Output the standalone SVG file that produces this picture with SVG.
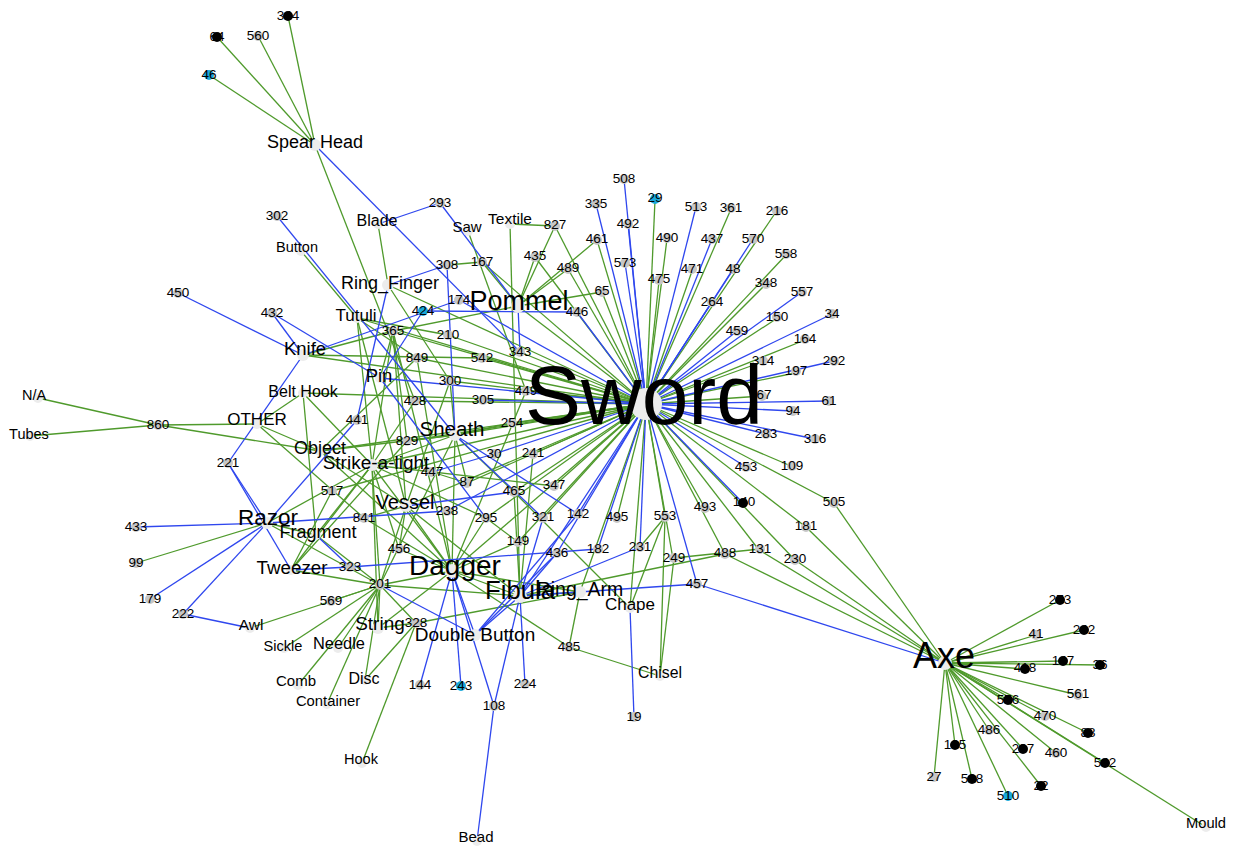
<svg xmlns="http://www.w3.org/2000/svg" width="1233" height="847" viewBox="0 0 1233 847">
<style>
.g path{stroke:#4f9a2c;stroke-width:1.3;fill:none}
.b path{stroke:#2f47ee;stroke-width:1.3;fill:none}
circle{stroke:none}
.gy{fill:#c6c6c6}
.k{fill:#000}
.cy{fill:#19a8da}
.ty{fill:#ececec}
text{font-family:"Liberation Sans",Arial,sans-serif;fill:#000;text-anchor:middle}
.nm{font-size:13.5px}
</style>
<rect width="1233" height="847" fill="#fff"/>
<g id="connectors">
<g class="g">
<path d="M646 404L655 200"/><path d="M646 404L597 240"/><path d="M646 404L731 209"/><path d="M646 404L776 212"/><path d="M646 404L667 239"/><path d="M646 404L786 255"/><path d="M646 404L659 281"/><path d="M646 404L692 271"/><path d="M646 404L766 284"/><path d="M646 404L555 226"/><path d="M646 404L535 257"/><path d="M646 404L568 269"/><path d="M646 404L602 292"/><path d="M646 404L776 319"/><path d="M646 404L805 340"/><path d="M646 404L762 362"/><path d="M646 404L795 373"/><path d="M646 404L762 396"/><path d="M646 404L791 466"/><path d="M646 404L834 503"/><path d="M646 404L806 527"/><path d="M646 404L795 560"/><path d="M646 404L759 550"/><path d="M646 404L705 508"/><path d="M646 404L725 554"/><path d="M646 404L673 559"/><path d="M646 404L665 517"/><path d="M646 404L617 518"/><path d="M646 404L630 608"/><path d="M646 404L580 592"/><path d="M646 404L452 571"/><path d="M646 404L518 542"/><path d="M646 404L543 518"/><path d="M646 404L554 486"/><path d="M646 404L514 492"/><path d="M646 404L486 518"/><path d="M646 404L406 506"/><path d="M646 404L533 454"/><path d="M646 404L467 483"/><path d="M646 404L372 465"/><path d="M646 404L455 435"/><path d="M646 404L512 423"/><path d="M646 404L407 441"/><path d="M646 404L320 451"/><path d="M646 404L415 401"/><path d="M646 404L526 391"/><path d="M646 404L450 381"/><path d="M646 404L303 393"/><path d="M646 404L417 358"/><path d="M646 404L482 358"/><path d="M646 404L520 352"/><path d="M646 404L393 331"/><path d="M646 404L357 318"/><path d="M646 404L448 335"/><path d="M646 404L303 355"/><path d="M646 404L518 306"/><path d="M646 404L482 262"/><path d="M646 404L388 285"/><path d="M646 404L332 491"/>
<path d="M945 663L1060 600"/><path d="M945 663L1036 635"/><path d="M945 663L1084 630"/><path d="M945 663L1063 661"/><path d="M945 663L1100 665"/><path d="M945 663L1025 669"/><path d="M945 663L1078 695"/><path d="M945 663L1008 700"/><path d="M945 663L1045 716"/><path d="M945 663L1088 733"/><path d="M945 663L989 730"/><path d="M945 663L955 745"/><path d="M945 663L1023 749"/><path d="M945 663L1056 753"/><path d="M945 663L1105 763"/><path d="M945 663L934 777"/><path d="M945 663L972 779"/><path d="M945 663L1008 796"/><path d="M945 663L1041 786"/><path d="M945 663L1206 827"/><path d="M945 663L834 503"/><path d="M945 663L806 527"/><path d="M945 663L795 560"/><path d="M945 663L759 550"/><path d="M945 663L725 554"/>
<path d="M315 145L288 16"/><path d="M315 145L217 37"/><path d="M315 145L258 36"/><path d="M315 145L209 75"/><path d="M315 145L415 401"/>
<path d="M378 224L388 285"/><path d="M468 231L526 391"/><path d="M510 224L555 226"/><path d="M510 224L520 596"/><path d="M447 265L482 262"/><path d="M555 226L518 306"/><path d="M535 257L518 306"/><path d="M568 269L518 306"/><path d="M597 240L518 306"/><path d="M602 292L518 306"/><path d="M482 262L518 306"/><path d="M301 251L357 318"/><path d="M303 355L393 331"/><path d="M357 318L372 465"/><path d="M357 318L406 506"/><path d="M393 331L372 465"/><path d="M393 331L407 441"/><path d="M393 331L406 506"/><path d="M393 331L518 306"/><path d="M393 331L452 571"/><path d="M448 335L357 318"/><path d="M417 358L357 318"/><path d="M417 358L452 571"/><path d="M417 358L320 451"/><path d="M482 358L303 355"/><path d="M380 378L393 331"/><path d="M450 381L388 285"/><path d="M450 381L406 506"/><path d="M526 391L452 571"/><path d="M415 401L372 465"/><path d="M303 393L257 424"/><path d="M303 393L372 465"/><path d="M303 393L316 535"/><path d="M257 424L158 425"/><path d="M257 424L364 518"/><path d="M257 424L320 451"/><path d="M158 425L38 398"/><path d="M158 425L30 436"/><path d="M158 425L320 451"/><path d="M512 423L455 435"/><path d="M455 435L452 571"/><path d="M455 435L380 585"/><path d="M455 435L467 483"/><path d="M455 435L514 492"/><path d="M455 435L320 451"/><path d="M455 435L372 465"/><path d="M455 435L450 381"/><path d="M407 441L291 570"/><path d="M407 441L455 435"/><path d="M320 451L406 506"/><path d="M320 451L452 571"/><path d="M533 454L520 596"/><path d="M372 465L486 518"/><path d="M372 465L380 585"/><path d="M372 465L452 571"/><path d="M372 465L316 535"/><path d="M372 465L267 523"/><path d="M372 465L378 628"/><path d="M372 465L291 570"/><path d="M372 465L399 549"/><path d="M432 472L467 483"/><path d="M514 492L630 608"/><path d="M514 492L520 596"/><path d="M554 486L372 465"/><path d="M332 491L291 570"/><path d="M406 506L380 585"/><path d="M406 506L452 571"/><path d="M406 506L364 518"/><path d="M406 506L399 549"/><path d="M406 506L520 596"/><path d="M364 518L452 571"/><path d="M486 518L452 571"/><path d="M316 535L267 523"/><path d="M316 535L380 585"/><path d="M518 542L452 571"/><path d="M518 542L486 518"/><path d="M399 549L452 571"/><path d="M291 570L380 585"/><path d="M452 571L380 585"/><path d="M452 571L378 628"/><path d="M452 571L520 596"/><path d="M452 571L580 592"/><path d="M452 571L569 647"/><path d="M380 585L338 648"/><path d="M380 585L284 648"/><path d="M380 585L298 685"/><path d="M380 585L327 704"/><path d="M380 585L331 601"/><path d="M380 585L378 628"/><path d="M380 585L250 628"/><path d="M380 585L520 596"/><path d="M380 585L416 623"/><path d="M380 585L267 523"/><path d="M380 585L365 680"/><path d="M520 596L580 592"/><path d="M580 592L569 647"/><path d="M378 628L416 623"/><path d="M416 623L362 763"/><path d="M416 623L365 680"/><path d="M416 623L580 592"/><path d="M569 647L660 676"/><path d="M660 676L665 517"/><path d="M660 676L674 558"/><path d="M630 608L665 517"/><path d="M665 517L640 547"/><path d="M674 558L760 549"/><path d="M725 554L520 596"/><path d="M267 523L136 563"/>
</g>
<g class="b">
<path d="M646 404L624 179"/><path d="M646 404L596 204"/><path d="M646 404L628 224"/><path d="M646 404L696 207"/><path d="M646 404L712 239"/><path d="M646 404L753 239"/><path d="M646 404L733 269"/><path d="M646 404L625 263"/><path d="M646 404L577 312"/><path d="M646 404L712 302"/><path d="M646 404L737 331"/><path d="M646 404L802 292"/><path d="M646 404L832 314"/><path d="M646 404L834 361"/><path d="M646 404L829 401"/><path d="M646 404L793 411"/><path d="M646 404L766 434"/><path d="M646 404L815 439"/><path d="M646 404L746 467"/><path d="M646 404L743 503"/><path d="M646 404L640 547"/><path d="M646 404L697 584"/><path d="M646 404L557 553"/><path d="M646 404L598 549"/><path d="M646 404L578 514"/><path d="M646 404L520 596"/><path d="M646 404L494 454"/><path d="M646 404L483 400"/><path d="M646 404L380 378"/><path d="M646 404L459 300"/><path d="M646 404L447 511"/>
<path d="M945 663L697 584"/><path d="M315 145L520 352"/><path d="M378 224L440 203"/><path d="M440 203L518 306"/><path d="M447 265L388 285"/><path d="M447 265L455 435"/><path d="M277 216L455 435"/><path d="M178 293L303 355"/><path d="M272 313L303 355"/><path d="M272 313L380 378"/><path d="M303 355L459 300"/><path d="M303 355L228 463"/><path d="M423 311L577 312"/><path d="M423 311L380 378"/><path d="M520 352L518 306"/><path d="M380 378L486 518"/><path d="M388 285L357 420"/><path d="M357 420L267 523"/><path d="M455 435L543 518"/><path d="M455 435L578 514"/><path d="M494 454L432 472"/><path d="M514 492L406 506"/><path d="M267 523L136 527"/><path d="M267 523L150 599"/><path d="M267 523L183 614"/><path d="M267 523L447 511"/><path d="M267 523L228 463"/><path d="M228 463L291 570"/><path d="M543 518L520 596"/><path d="M578 514L475 635"/><path d="M316 535L350 567"/><path d="M557 553L520 596"/><path d="M557 553L475 635"/><path d="M598 549L350 567"/><path d="M350 567L291 570"/><path d="M452 571L420 685"/><path d="M452 571L461 686"/><path d="M452 571L494 706"/><path d="M452 571L475 635"/><path d="M520 596L525 684"/><path d="M520 596L494 706"/><path d="M520 596L475 635"/><path d="M520 596L697 584"/><path d="M520 596L640 547"/><path d="M380 585L475 635"/><path d="M494 706L477 841"/><path d="M250 628L183 614"/><path d="M630 608L634 717"/>
</g>
</g>
<g id="nodes">
<g id="n344"><circle class="k" cx="288" cy="16" r="5"/><text class="nm" x="288" y="20">344</text></g>
<g id="n64"><circle class="k" cx="217" cy="37" r="5"/><text class="nm" x="217" y="41">64</text></g>
<g id="n560"><circle class="gy" cx="258" cy="36" r="5"/><text class="nm" x="258" y="40">560</text></g>
<g id="n46"><circle class="cy" cx="209" cy="75" r="5"/><text class="nm" x="209" y="79">46</text></g>
<g id="n302"><circle class="gy" cx="277" cy="216" r="5"/><text class="nm" x="277" y="220">302</text></g>
<g id="n293"><circle class="gy" cx="440" cy="203" r="5"/><text class="nm" x="440" y="207">293</text></g>
<g id="n827"><circle class="gy" cx="555" cy="226" r="5"/><text class="nm" x="555" y="229">827</text></g>
<g id="n335"><circle class="gy" cx="596" cy="204" r="5"/><text class="nm" x="596" y="208">335</text></g>
<g id="n508"><circle class="gy" cx="624" cy="179" r="5"/><text class="nm" x="624" y="183">508</text></g>
<g id="n29"><circle class="cy" cx="655" cy="199" r="5"/><text class="nm" x="655" y="202">29</text></g>
<g id="n492"><circle class="gy" cx="628" cy="224" r="5"/><text class="nm" x="628" y="228">492</text></g>
<g id="n461"><circle class="gy" cx="597" cy="240" r="5"/><text class="nm" x="597" y="243">461</text></g>
<g id="n513"><circle class="gy" cx="696" cy="207" r="5"/><text class="nm" x="696" y="211">513</text></g>
<g id="n361"><circle class="gy" cx="731" cy="208" r="5"/><text class="nm" x="731" y="212">361</text></g>
<g id="n216"><circle class="gy" cx="777" cy="211" r="5"/><text class="nm" x="777" y="215">216</text></g>
<g id="n490"><circle class="gy" cx="667" cy="238" r="5"/><text class="nm" x="667" y="242">490</text></g>
<g id="n437"><circle class="gy" cx="712" cy="239" r="5"/><text class="nm" x="712" y="243">437</text></g>
<g id="n570"><circle class="gy" cx="753" cy="239" r="5"/><text class="nm" x="753" y="243">570</text></g>
<g id="n558"><circle class="gy" cx="786" cy="254" r="5"/><text class="nm" x="786" y="258">558</text></g>
<g id="n573"><circle class="gy" cx="625" cy="263" r="5"/><text class="nm" x="625" y="267">573</text></g>
<g id="n475"><circle class="gy" cx="659" cy="280" r="5"/><text class="nm" x="659" y="283">475</text></g>
<g id="n471"><circle class="gy" cx="692" cy="269" r="5"/><text class="nm" x="692" y="273">471</text></g>
<g id="n48"><circle class="gy" cx="733" cy="269" r="5"/><text class="nm" x="733" y="273">48</text></g>
<g id="n348"><circle class="gy" cx="766" cy="284" r="5"/><text class="nm" x="766" y="287">348</text></g>
<g id="n435"><circle class="gy" cx="535" cy="257" r="5"/><text class="nm" x="535" y="260">435</text></g>
<g id="n489"><circle class="gy" cx="568" cy="269" r="5"/><text class="nm" x="568" y="272">489</text></g>
<g id="n65"><circle class="gy" cx="602" cy="292" r="5"/><text class="nm" x="602" y="295">65</text></g>
<g id="n446"><circle class="gy" cx="577" cy="312" r="5"/><text class="nm" x="577" y="316">446</text></g>
<g id="n308"><circle class="gy" cx="447" cy="265" r="5"/><text class="nm" x="447" y="269">308</text></g>
<g id="n167"><circle class="gy" cx="482" cy="262" r="5"/><text class="nm" x="482" y="266">167</text></g>
<g id="n450"><circle class="gy" cx="178" cy="293" r="5"/><text class="nm" x="178" y="297">450</text></g>
<g id="n432"><circle class="gy" cx="272" cy="313" r="5"/><text class="nm" x="272" y="317">432</text></g>
<g id="n174"><circle class="gy" cx="459" cy="300" r="5"/><text class="nm" x="459" y="304">174</text></g>
<g id="n424"><circle class="cy" cx="423" cy="311" r="5"/><text class="nm" x="423" y="315">424</text></g>
<g id="n365"><circle class="gy" cx="393" cy="331" r="5"/><text class="nm" x="393" y="335">365</text></g>
<g id="n210"><circle class="gy" cx="448" cy="335" r="5"/><text class="nm" x="448" y="339">210</text></g>
<g id="n849"><circle class="gy" cx="417" cy="358" r="5"/><text class="nm" x="417" y="362">849</text></g>
<g id="n542"><circle class="gy" cx="482" cy="358" r="5"/><text class="nm" x="482" y="362">542</text></g>
<g id="n343"><circle class="gy" cx="520" cy="352" r="5"/><text class="nm" x="520" y="356">343</text></g>
<g id="n264"><circle class="gy" cx="712" cy="302" r="5"/><text class="nm" x="712" y="306">264</text></g>
<g id="n557"><circle class="gy" cx="802" cy="292" r="5"/><text class="nm" x="802" y="296">557</text></g>
<g id="n34"><circle class="gy" cx="832" cy="314" r="5"/><text class="nm" x="832" y="318">34</text></g>
<g id="n150"><circle class="gy" cx="777" cy="317" r="5"/><text class="nm" x="777" y="321">150</text></g>
<g id="n459"><circle class="gy" cx="737" cy="331" r="5"/><text class="nm" x="737" y="335">459</text></g>
<g id="n164"><circle class="gy" cx="805" cy="339" r="5"/><text class="nm" x="805" y="343">164</text></g>
<g id="n314"><circle class="gy" cx="763" cy="361" r="5"/><text class="nm" x="763" y="365">314</text></g>
<g id="n292"><circle class="gy" cx="834" cy="361" r="5"/><text class="nm" x="834" y="365">292</text></g>
<g id="n197"><circle class="gy" cx="796" cy="371" r="5"/><text class="nm" x="796" y="375">197</text></g>
<g id="n67"><circle class="gy" cx="762" cy="396" r="5"/><text class="nm" x="764" y="399">67</text></g>
<g id="n61"><circle class="gy" cx="829" cy="401" r="5"/><text class="nm" x="829" y="405">61</text></g>
<g id="n94"><circle class="gy" cx="793" cy="411" r="5"/><text class="nm" x="793" y="415">94</text></g>
<g id="n283"><circle class="gy" cx="766" cy="434" r="5"/><text class="nm" x="766" y="438">283</text></g>
<g id="n316"><circle class="gy" cx="815" cy="439" r="5"/><text class="nm" x="815" y="443">316</text></g>
<g id="n453"><circle class="gy" cx="746" cy="467" r="5"/><text class="nm" x="746" y="471">453</text></g>
<g id="n109"><circle class="gy" cx="792" cy="466" r="5"/><text class="nm" x="792" y="470">109</text></g>
<g id="n140"><circle class="k" cx="743" cy="503" r="5"/><text class="nm" x="744" y="506">140</text></g>
<g id="n505"><circle class="gy" cx="834" cy="503" r="5"/><text class="nm" x="834" y="506">505</text></g>
<g id="n181"><circle class="gy" cx="806" cy="527" r="5"/><text class="nm" x="806" y="530">181</text></g>
<g id="n493"><circle class="gy" cx="705" cy="508" r="5"/><text class="nm" x="705" y="511">493</text></g>
<g id="n553"><circle class="gy" cx="665" cy="517" r="5"/><text class="nm" x="665" y="520">553</text></g>
<g id="n495"><circle class="gy" cx="617" cy="518" r="5"/><text class="nm" x="617" y="521">495</text></g>
<g id="n488"><circle class="gy" cx="725" cy="554" r="5"/><text class="nm" x="725" y="557">488</text></g>
<g id="n131"><circle class="gy" cx="760" cy="549" r="5"/><text class="nm" x="760" y="553">131</text></g>
<g id="n230"><circle class="gy" cx="795" cy="560" r="5"/><text class="nm" x="795" y="563">230</text></g>
<g id="n231"><circle class="gy" cx="640" cy="547" r="5"/><text class="nm" x="640" y="551">231</text></g>
<g id="n249"><circle class="gy" cx="674" cy="558" r="5"/><text class="nm" x="674" y="562">249</text></g>
<g id="n457"><circle class="gy" cx="697" cy="584" r="5"/><text class="nm" x="697" y="588">457</text></g>
<g id="n300"><circle class="gy" cx="450" cy="381" r="5"/><text class="nm" x="450" y="385">300</text></g>
<g id="n449"><circle class="gy" cx="526" cy="391" r="5"/><text class="nm" x="526" y="395">449</text></g>
<g id="n305"><circle class="gy" cx="483" cy="400" r="5"/><text class="nm" x="483" y="404">305</text></g>
<g id="n428"><circle class="gy" cx="415" cy="401" r="5"/><text class="nm" x="415" y="405">428</text></g>
<g id="n860"><circle class="gy" cx="158" cy="425" r="5"/><text class="nm" x="158" y="429">860</text></g>
<g id="n441"><circle class="gy" cx="357" cy="420" r="5"/><text class="nm" x="357" y="424">441</text></g>
<g id="n254"><circle class="gy" cx="512" cy="423" r="5"/><text class="nm" x="512" y="427">254</text></g>
<g id="n829"><circle class="gy" cx="407" cy="441" r="5"/><text class="nm" x="407" y="445">829</text></g>
<g id="n30"><circle class="gy" cx="494" cy="454" r="5"/><text class="nm" x="494" y="458">30</text></g>
<g id="n241"><circle class="gy" cx="533" cy="454" r="5"/><text class="nm" x="533" y="457">241</text></g>
<g id="n447"><circle class="gy" cx="432" cy="472" r="5"/><text class="nm" x="432" y="476">447</text></g>
<g id="n221"><circle class="gy" cx="228" cy="463" r="5"/><text class="nm" x="228" y="467">221</text></g>
<g id="n87"><circle class="gy" cx="467" cy="483" r="5"/><text class="nm" x="467" y="486">87</text></g>
<g id="n465"><circle class="gy" cx="514" cy="492" r="5"/><text class="nm" x="514" y="495">465</text></g>
<g id="n347"><circle class="gy" cx="554" cy="486" r="5"/><text class="nm" x="554" y="489">347</text></g>
<g id="n517"><circle class="gy" cx="332" cy="491" r="5"/><text class="nm" x="332" y="495">517</text></g>
<g id="n238"><circle class="gy" cx="447" cy="511" r="5"/><text class="nm" x="447" y="515">238</text></g>
<g id="n841"><circle class="gy" cx="364" cy="518" r="5"/><text class="nm" x="364" y="522">841</text></g>
<g id="n295"><circle class="gy" cx="486" cy="518" r="5"/><text class="nm" x="486" y="522">295</text></g>
<g id="n321"><circle class="gy" cx="543" cy="518" r="5"/><text class="nm" x="543" y="521">321</text></g>
<g id="n142"><circle class="gy" cx="578" cy="514" r="5"/><text class="nm" x="578" y="518">142</text></g>
<g id="n433"><circle class="gy" cx="136" cy="527" r="5"/><text class="nm" x="136" y="531">433</text></g>
<g id="n149"><circle class="gy" cx="518" cy="542" r="5"/><text class="nm" x="518" y="545">149</text></g>
<g id="n456"><circle class="gy" cx="399" cy="549" r="5"/><text class="nm" x="399" y="553">456</text></g>
<g id="n436"><circle class="gy" cx="557" cy="553" r="5"/><text class="nm" x="557" y="557">436</text></g>
<g id="n182"><circle class="gy" cx="598" cy="549" r="5"/><text class="nm" x="598" y="553">182</text></g>
<g id="n99"><circle class="gy" cx="136" cy="563" r="5"/><text class="nm" x="136" y="567">99</text></g>
<g id="n323"><circle class="gy" cx="350" cy="567" r="5"/><text class="nm" x="350" y="571">323</text></g>
<g id="n201"><circle class="gy" cx="380" cy="585" r="5"/><text class="nm" x="380" y="588">201</text></g>
<g id="n569"><circle class="gy" cx="331" cy="601" r="5"/><text class="nm" x="331" y="605">569</text></g>
<g id="n179"><circle class="gy" cx="150" cy="599" r="5"/><text class="nm" x="150" y="603">179</text></g>
<g id="n222"><circle class="gy" cx="183" cy="614" r="5"/><text class="nm" x="183" y="618">222</text></g>
<g id="n328"><circle class="gy" cx="416" cy="623" r="5"/><text class="nm" x="416" y="627">328</text></g>
<g id="n485"><circle class="gy" cx="569" cy="647" r="5"/><text class="nm" x="569" y="651">485</text></g>
<g id="n144"><circle class="gy" cx="420" cy="685" r="5"/><text class="nm" x="420" y="689">144</text></g>
<g id="n243"><circle class="cy" cx="461" cy="686" r="5"/><text class="nm" x="461" y="690">243</text></g>
<g id="n224"><circle class="gy" cx="525" cy="684" r="5"/><text class="nm" x="525" y="688">224</text></g>
<g id="n108"><circle class="gy" cx="494" cy="706" r="5"/><text class="nm" x="494" y="710">108</text></g>
<g id="n19"><circle class="gy" cx="634" cy="717" r="5"/><text class="nm" x="634" y="721">19</text></g>
<g id="n273"><circle class="k" cx="1060" cy="600" r="5"/><text class="nm" x="1060" y="604">273</text></g>
<g id="n41"><circle class="gy" cx="1036" cy="635" r="5"/><text class="nm" x="1036" y="638">41</text></g>
<g id="n242"><circle class="k" cx="1084" cy="630" r="5"/><text class="nm" x="1084" y="634">242</text></g>
<g id="n147"><circle class="k" cx="1063" cy="661" r="5"/><text class="nm" x="1063" y="665">147</text></g>
<g id="n36"><circle class="k" cx="1100" cy="665" r="5"/><text class="nm" x="1100" y="669">36</text></g>
<g id="n418"><circle class="k" cx="1025" cy="669" r="5"/><text class="nm" x="1025" y="672">418</text></g>
<g id="n561"><circle class="gy" cx="1078" cy="695" r="5"/><text class="nm" x="1078" y="698">561</text></g>
<g id="n576"><circle class="k" cx="1008" cy="700" r="5"/><text class="nm" x="1008" y="704">576</text></g>
<g id="n470"><circle class="gy" cx="1045" cy="716" r="5"/><text class="nm" x="1045" y="720">470</text></g>
<g id="n88"><circle class="k" cx="1088" cy="733" r="5"/><text class="nm" x="1088" y="737">88</text></g>
<g id="n486"><circle class="gy" cx="989" cy="730" r="5"/><text class="nm" x="989" y="734">486</text></g>
<g id="n185"><circle class="k" cx="955" cy="745" r="5"/><text class="nm" x="955" y="749">185</text></g>
<g id="n207"><circle class="k" cx="1023" cy="749" r="5"/><text class="nm" x="1023" y="753">207</text></g>
<g id="n460"><circle class="gy" cx="1056" cy="753" r="5"/><text class="nm" x="1056" y="757">460</text></g>
<g id="n512"><circle class="k" cx="1105" cy="763" r="5"/><text class="nm" x="1105" y="767">542</text></g>
<g id="n27"><circle class="gy" cx="934" cy="777" r="5"/><text class="nm" x="934" y="781">27</text></g>
<g id="n518"><circle class="k" cx="972" cy="779" r="5"/><text class="nm" x="972" y="783">518</text></g>
<g id="n510"><circle class="cy" cx="1008" cy="796" r="5"/><text class="nm" x="1008" y="800">510</text></g>
<g id="n22"><circle class="k" cx="1041" cy="786" r="5"/><text class="nm" x="1041" y="790">22</text></g>
<g id="n-spearhead"><circle class="ty" cx="315" cy="145" r="6"/><text x="315" y="148" font-size="18">Spear Head</text></g>
<g id="n-blade"><circle class="ty" cx="378" cy="224" r="5"/><text x="377" y="226" font-size="16">Blade</text></g>
<g id="n-saw"><circle class="ty" cx="468" cy="231" r="5"/><text x="467" y="232" font-size="15">Saw</text></g>
<g id="n-textile"><circle class="ty" cx="510" cy="224" r="5"/><text x="510" y="224" font-size="15.5">Textile</text></g>
<g id="n-button"><circle class="ty" cx="301" cy="251" r="5"/><text x="297" y="252" font-size="14.5">Button</text></g>
<g id="n-ringfinger"><circle class="ty" cx="388" cy="285" r="6"/><text x="390" y="289" font-size="18">Ring_Finger</text></g>
<g id="n-pommel"><circle class="ty" cx="518" cy="306" r="7"/><text x="519" y="310" font-size="27">Pommel</text></g>
<g id="n-tutuli"><circle class="ty" cx="357" cy="318" r="5"/><text x="356" y="321" font-size="17">Tutuli</text></g>
<g id="n-knife"><circle class="ty" cx="303" cy="355" r="6"/><text x="305" y="355" font-size="18.5">Knife</text></g>
<g id="n-pin"><circle class="ty" cx="380" cy="378" r="5"/><text x="379" y="382" font-size="18.5">Pin</text></g>
<g id="n-belthook"><circle class="ty" cx="303" cy="393" r="5"/><text x="303" y="397" font-size="16">Belt Hook</text></g>
<g id="n-na"><circle class="ty" cx="38" cy="398" r="5"/><text x="34" y="400" font-size="14.5">N/A</text></g>
<g id="n-tubes"><circle class="ty" cx="30" cy="436" r="5"/><text x="29" y="439" font-size="14.5">Tubes</text></g>
<g id="n-other"><circle class="ty" cx="257" cy="424" r="5"/><text x="257" y="425" font-size="17">OTHER</text></g>
<g id="n-sheath"><circle class="ty" cx="455" cy="435" r="6"/><text x="452" y="436" font-size="20.5">Sheath</text></g>
<g id="n-object"><circle class="ty" cx="320" cy="451" r="5"/><text x="320" y="454" font-size="18">Object</text></g>
<g id="n-strike"><circle class="ty" cx="372" cy="465" r="6"/><text x="376" y="469" font-size="19">Strike-a-light</text></g>
<g id="n-vessel"><circle class="ty" cx="406" cy="506" r="6"/><text x="405" y="509" font-size="20">Vessel</text></g>
<g id="n-razor"><circle class="ty" cx="267" cy="523" r="6"/><text x="268" y="525" font-size="22.5">Razor</text></g>
<g id="n-fragment"><circle class="ty" cx="316" cy="535" r="5"/><text x="318" y="538" font-size="18">Fragment</text></g>
<g id="n-tweezer"><circle class="ty" cx="291" cy="570" r="5"/><text x="292" y="574" font-size="18.8">Tweezer</text></g>
<g id="n-dagger"><circle class="ty" cx="452" cy="571" r="7"/><text x="455" y="575" font-size="28">Dagger</text></g>
<g id="n-fibula"><circle class="ty" cx="520" cy="596" r="7"/><text x="520" y="599" font-size="25.7">Fibula</text></g>
<g id="n-ringarm"><circle class="ty" cx="580" cy="592" r="6"/><text x="580" y="596" font-size="19.5">Ring_Arm</text></g>
<g id="n-chape"><circle class="ty" cx="630" cy="608" r="5"/><text x="630" y="610" font-size="17">Chape</text></g>
<g id="n-awl"><circle class="ty" cx="250" cy="628" r="5"/><text x="251" y="630" font-size="15.5">Awl</text></g>
<g id="n-string"><circle class="ty" cx="378" cy="628" r="6"/><text x="380" y="630" font-size="19">String</text></g>
<g id="n-doublebutton"><circle class="ty" cx="475" cy="635" r="6"/><text x="475" y="641" font-size="19">Double Button</text></g>
<g id="n-needle"><circle class="ty" cx="338" cy="648" r="5"/><text x="339" y="649" font-size="16.4">Needle</text></g>
<g id="n-sickle"><circle class="ty" cx="284" cy="648" r="5"/><text x="283" y="651" font-size="14.6">Sickle</text></g>
<g id="n-chisel"><circle class="ty" cx="660" cy="676" r="5"/><text x="660" y="678" font-size="15.8">Chisel</text></g>
<g id="n-disc"><circle class="ty" cx="365" cy="680" r="5"/><text x="364" y="684" font-size="16">Disc</text></g>
<g id="n-comb"><circle class="ty" cx="298" cy="685" r="5"/><text x="296" y="686" font-size="15">Comb</text></g>
<g id="n-container"><circle class="ty" cx="327" cy="704" r="5"/><text x="328" y="706" font-size="14.8">Container</text></g>
<g id="n-hook"><circle class="ty" cx="362" cy="763" r="5"/><text x="361" y="764" font-size="14.6">Hook</text></g>
<g id="n-bead"><circle class="ty" cx="477" cy="841" r="5"/><text x="476" y="842" font-size="15">Bead</text></g>
<g id="n-mould"><circle class="ty" cx="1206" cy="827" r="5"/><text x="1206" y="828" font-size="14.7">Mould</text></g>
<g id="n-axe"><circle class="ty" cx="945" cy="663" r="7"/><text x="944" y="668" font-size="36">Axe</text></g>
<g id="n-sword"><circle class="ty" cx="646" cy="404" r="16"/><text x="644" y="424" font-size="84">Sword</text></g>
</g>
</svg>
